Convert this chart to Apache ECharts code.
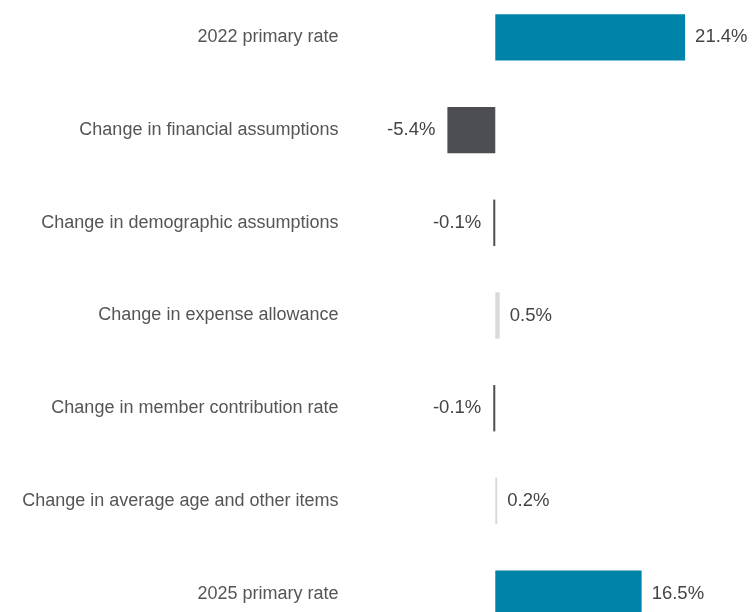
<!DOCTYPE html>
<html>
<head>
<meta charset="utf-8">
<script src="https://cdn.jsdelivr.net/npm/echarts@6/dist/echarts.min.js"></script>
<style>
  html, body { margin: 0; padding: 0; background: #ffffff; overflow: hidden; }
  body { width: 754px; height: 612px; position: relative; }
  /* the plot runs slightly past the top and bottom edges of the page */
  #chart { position: absolute; left: 0; top: -9px; width: 754px; height: 649px; }
</style>
</head>
<body>
<div id="chart"></div>
<script>
// Contributions to the change in primary contribution rate (percent)
const categories = [
  '2022 primary rate',
  'Change in financial assumptions',
  'Change in demographic assumptions',
  'Change in expense allowance',
  'Change in member contribution rate',
  'Change in average age and other items',
  '2025 primary rate'
];
const values = [21.4, -5.4, -0.1, 0.5, -0.1, 0.2, 16.5];
const barKinds = ['total', 'change', 'change', 'change', 'change', 'change', 'total'];

const COLORS = {
  total: '#0083a8',
  negative: '#4d4e53',
  positive: '#d9d9d9'
};
const FONT = 'Liberation Sans, Arial, Helvetica, sans-serif';

function colorFor(v, kind) {
  if (kind === 'total') return COLORS.total;
  return v < 0 ? COLORS.negative : COLORS.positive;
}

const chart = echarts.init(document.getElementById('chart'), null, { renderer: 'canvas' });

const seriesData = values.map((v, i) => ({
  value: v,
  itemStyle: { color: colorFor(v, barKinds[i]) },
  label: {
    show: true,
    position: v < 0 ? 'left' : 'right',
    distance: v < 0 ? 12 : 10,
    formatter: v.toFixed(1) + '%'
  }
}));

chart.setOption({
  animation: false,
  backgroundColor: '#ffffff',
  grid: { left: 344.5, right: 1.5, top: 0, bottom: 0, containLabel: false },
  xAxis: {
    type: 'value',
    min: -17,
    max: 29,
    show: false,
    splitLine: { show: false }
  },
  yAxis: {
    type: 'category',
    data: categories,
    inverse: true,
    axisLine: { show: false },
    axisTick: { show: false },
    axisLabel: {
      margin: 6,
      color: '#555555',
      fontSize: 18,
      fontFamily: FONT
    }
  },
  series: [{
    type: 'bar',
    data: seriesData,
    barWidth: '50%',
    barMinHeight: 2,
    label: {
      color: '#444444',
      fontSize: 18.5,
      fontFamily: FONT
    }
  }]
});
</script>
</body>
</html>
